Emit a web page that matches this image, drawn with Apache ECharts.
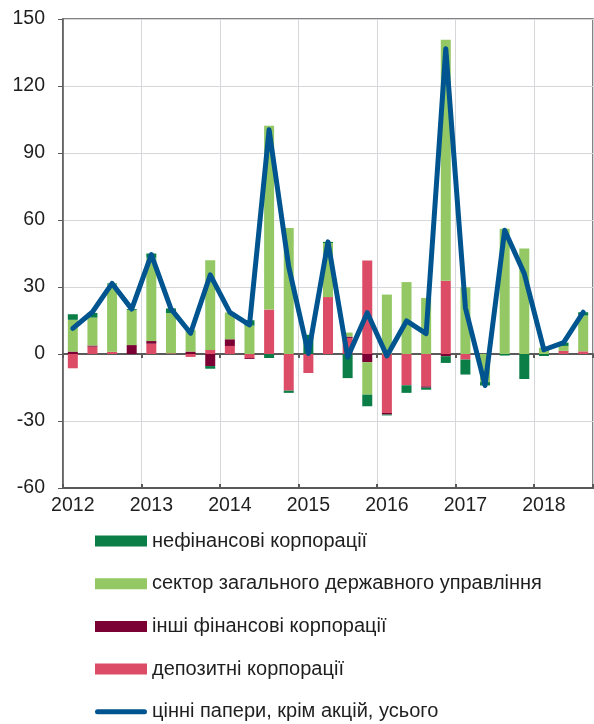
<!DOCTYPE html>
<html>
<head>
<meta charset="utf-8">
<script src="https://cdn.jsdelivr.net/npm/echarts@6/dist/echarts.min.js"></script>
<style>
  html, body { margin: 0; padding: 0; background: #fff; }
  #chart { width: 594px; height: 724px; }
</style>
</head>
<body>
<div id="chart"></div>
<script>
// квартали 2012Q1 - 2018Q3
const quarters = [
  '2012Q1', '2012Q2', '2012Q3', '2012Q4',
  '2013Q1', '2013Q2', '2013Q3', '2013Q4',
  '2014Q1', '2014Q2', '2014Q3', '2014Q4',
  '2015Q1', '2015Q2', '2015Q3', '2015Q4',
  '2016Q1', '2016Q2', '2016Q3', '2016Q4',
  '2017Q1', '2017Q2', '2017Q3', '2017Q4',
  '2018Q1', '2018Q2', '2018Q3'
]
const yTicks = { min: -60, max: 150, step: 30 }

const names = [
  'нефінансові корпорації',
  'сектор загального державного управління',
  'інші фінансові корпорації',
  'депозитні корпорації',
  'цінні папери, крім акцій, усього'
]

const deposit = [-6.4, 3.3, 1.0, 0, 4.6, 0.3, -1.3, 1.8, 3.6, -1.8, 19.9, -16.4, -8.5, 25.5, 7.2, 41.9, -26.4, -14.0, -14.5, 32.8, -2.5, 0, 0, 0, 0, 1.4, 1.2]
const otherFin = [1.1, 0.5, 0, 4.0, 1.2, 0, 1.1, -5.4, 3.0, -0.4, 0, 0, 0, 0, 0.6, -3.7, -0.7, 0, -0.6, -1.0, 0, 0, 0, 0, 0, 0, 0]
const gov = [14.2, 12.5, 30.2, 15.7, 37.3, 18.0, 9.7, 40.2, 12.0, 12.7, 82.3, 56.4, 0, 24.2, 1.8, -14.5, 26.6, 32.2, 25.1, 107.9, 29.9, -12.6, 56.1, 47.2, 2.8, 2.2, 16.0]
const nonFin = [2.5, 2.1, 0.4, 0.4, 1.9, 2.1, 0, -1.2, 0, 2.4, -1.8, -1.0, 8.6, 0.5, -10.8, -5.2, -0.4, -3.4, -0.9, -3.0, -6.7, -1.5, -0.7, -11.2, -0.9, 1.5, 1.5]
const total = [11.5, 18.8, 31.6, 20.1, 44.5, 20.2, 9.3, 35.4, 18.6, 13.0, 100.4, 39.0, 0.2, 50.2, -1.4, 18.5, -0.9, 14.8, 9.1, 136.7, 20.7, -14.1, 55.4, 36.0, 1.9, 5.1, 18.7]

const colors = {
  nonFin: '#0b7d46',
  gov: '#93c864',
  otherFin: '#7b0033',
  deposit: '#dc4c66',
  total: '#00548f'
}

const FONT = 'Liberation Sans, Arial, sans-serif'
const TEXT = '#1f1f1f'
const AXIS = '#5a5a5a'
const GRID = '#d5d7da'

const yearStart = (idx) => idx % 4 === 0

const chart = echarts.init(document.getElementById('chart'))

const barBase = {
  type: 'bar',
  stack: 'all',
  barWidth: 10,
  xAxisIndex: 0,
  yAxisIndex: 0
}

chart.setOption({
  animation: false,
  textStyle: { fontFamily: FONT },
  grid: {
    left: 63,
    right: 1,
    top: 19,
    bottom: 236,
    show: true,
    borderColor: AXIS,
    borderWidth: 1.5
  },
  legend: {
    orient: 'vertical',
    left: 95,
    top: 531,
    padding: 0,
    itemWidth: 52,
    itemHeight: 11,
    itemGap: 22.7,
    selectedMode: false,
    textStyle: { fontSize: 20, color: TEXT, lineHeight: 20, fontFamily: FONT },
    data: [
      { name: names[0], icon: 'rect' },
      { name: names[1], icon: 'rect' },
      { name: names[2], icon: 'rect' },
      { name: names[3], icon: 'rect' },
      {
        name: names[4],
        icon: 'path://M2.5,0 H49.5 A2.5,2.5 0 0 1 49.5,5 H2.5 A2.5,2.5 0 0 1 2.5,0 Z',
        itemStyle: { borderWidth: 0 }
      }
    ]
  },
  xAxis: [
    {
      // нижня вісь з підписами років
      type: 'category',
      data: quarters,
      position: 'bottom',
      boundaryGap: true,
      axisLine: { onZero: false, lineStyle: { color: AXIS, width: 1.5 } },
      axisTick: { show: false },
      axisLabel: {
        interval: 0,
        color: TEXT,
        fontSize: 19.5,
        margin: 8,
        formatter: (v, idx) => (yearStart(idx) ? v.slice(0, 4) : '')
      },
      splitLine: {
        show: true,
        interval: (idx) => yearStart(idx),
        lineStyle: { color: GRID, width: 1 }
      }
    },
    {
      // лінія нуля з рисками (вниз)
      type: 'category',
      data: quarters,
      position: 'bottom',
      boundaryGap: true,
      axisLine: { onZero: true, lineStyle: { color: AXIS, width: 2 } },
      axisTick: { show: true, interval: (idx) => yearStart(idx), length: 4, lineStyle: { color: AXIS, width: 2 } },
      axisLabel: { show: false },
      splitLine: { show: false }
    },
    {
      // лінія нуля з рисками (вгору)
      type: 'category',
      data: quarters,
      position: 'bottom',
      boundaryGap: true,
      axisLine: { onZero: true, lineStyle: { color: AXIS, width: 2 } },
      axisTick: { show: true, inside: true, interval: (idx) => yearStart(idx), length: 4, lineStyle: { color: AXIS, width: 2 } },
      axisLabel: { show: false },
      splitLine: { show: false }
    }
  ],
  yAxis: {
    type: 'value',
    min: yTicks.min,
    max: yTicks.max,
    interval: yTicks.step,
    axisLine: { show: true, lineStyle: { color: AXIS, width: 1.5 } },
    axisTick: { show: true, length: 5, lineStyle: { color: AXIS } },
    axisLabel: { color: TEXT, fontSize: 19.5, margin: 18 },
    splitLine: { lineStyle: { color: GRID, width: 1 } }
  },
  series: [
    { ...barBase, name: names[3], data: deposit, itemStyle: { color: colors.deposit } },
    { ...barBase, name: names[2], data: otherFin, itemStyle: { color: colors.otherFin } },
    { ...barBase, name: names[1], data: gov, itemStyle: { color: colors.gov } },
    { ...barBase, name: names[0], data: nonFin, itemStyle: { color: colors.nonFin } },
    {
      name: names[4],
      type: 'line',
      data: total,
      showSymbol: false,
      symbol: 'none',
      z: 5,
      itemStyle: { color: colors.total },
      lineStyle: { color: colors.total, width: 5, join: 'round', cap: 'round' }
    }
  ]
})

window.addEventListener('resize', () => chart.resize())
</script>
</body>
</html>
